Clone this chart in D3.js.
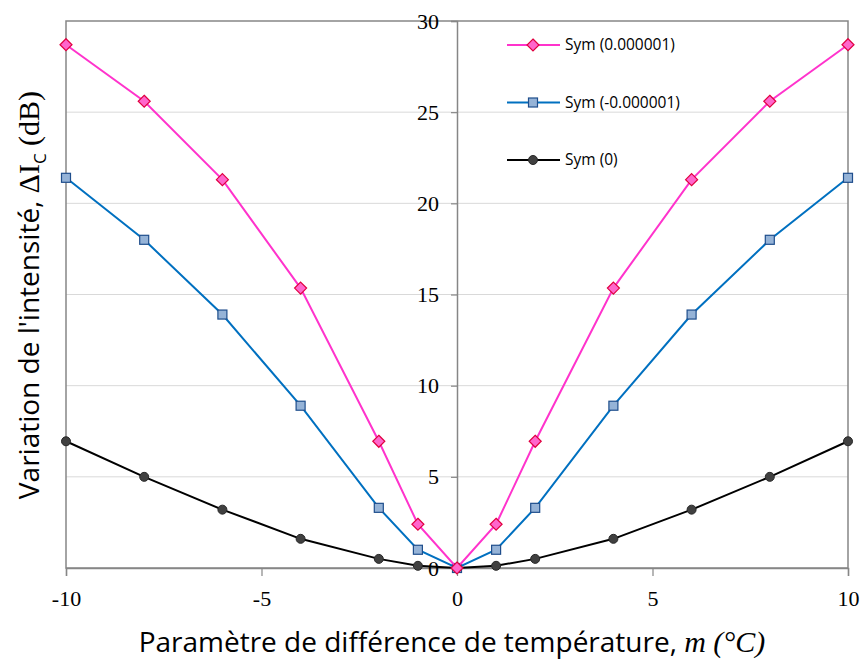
<!DOCTYPE html>
<html>
<head>
<meta charset="utf-8">
<script src="https://cdn.jsdelivr.net/npm/d3@7"></script>
<style>
  body { margin: 0; background: #fff; }
  svg { display: block; }
</style>
</head>
<body>
<div id="chart"></div>
<script>
// data
const xValues = [-10, -8, -6, -4, -2, -1, 0, 1, 2, 4, 6, 8, 10];
const symPos = [28.7, 25.6, 21.3, 15.35, 6.95, 2.4, 0, 2.4, 6.95, 15.35, 21.3, 25.6, 28.7];
const symNeg = [21.4, 18.0, 13.9, 8.9, 3.3, 1.0, 0, 1.0, 3.3, 8.9, 13.9, 18.0, 21.4];
const symZero = [6.95, 5.0, 3.2, 1.6, 0.5, 0.12, 0, 0.12, 0.5, 1.6, 3.2, 5.0, 6.95];
const xTicks = [-10, -5, 0, 5, 10];
const yTicks = [0, 5, 10, 15, 20, 25, 30];
const seriesNames = ["Sym (0.000001)", "Sym (-0.000001)", "Sym (0)"];

const W = 862, H = 661;
const margin = { top: 21, right: 14, bottom: 93, left: 66 };
const width = W - margin.left - margin.right;
const height = H - margin.top - margin.bottom;

const svg = d3.select("#chart").append("svg")
  .attr("width", W)
  .attr("height", H);

const g = svg.append("g")
  .attr("transform", `translate(${margin.left},${margin.top})`);

const x = d3.scaleLinear().domain([-10, 10]).range([0, width]);
const y = d3.scaleLinear().domain([0, 30]).range([height, 0]);

// gridlines
g.selectAll(".grid")
  .data(yTicks.filter(d => d > 0 && d < 30))
  .enter().append("line")
  .attr("x1", 0).attr("x2", width)
  .attr("y1", d => y(d)).attr("y2", d => y(d))
  .attr("stroke", "#d9d9d9")
  .attr("stroke-width", 1);

// plot frame
g.append("rect")
  .attr("x", 0).attr("y", 0)
  .attr("width", width).attr("height", height)
  .attr("fill", "none")
  .attr("stroke", "#868686")
  .attr("stroke-width", 1.5);

const tickFont = "'Liberation Serif', 'Times New Roman', serif";

// x axis at bottom
const xAxis = g.append("g")
  .attr("transform", `translate(0,${height})`)
  .call(d3.axisBottom(x).tickValues(xTicks).tickSize(8).tickPadding(14).tickFormat(d => String(d)));
xAxis.select(".domain").attr("stroke", "#868686").attr("stroke-width", 1.5);
xAxis.selectAll(".tick line").attr("stroke", "#868686").attr("stroke-width", 1.2);
xAxis.selectAll("text")
  .attr("fill", "#000")
  .style("font-family", tickFont)
  .style("font-size", "22px");

// y axis in the middle (x = 0)
const yAxis = g.append("g")
  .attr("transform", `translate(${x(0)},0)`)
  .call(d3.axisLeft(y).tickValues(yTicks).tickSize(6).tickPadding(12).tickFormat(d => String(d)));
yAxis.select(".domain").attr("stroke", "#868686").attr("stroke-width", 1.5);
yAxis.selectAll(".tick line").attr("stroke", "#868686").attr("stroke-width", 1.2);
yAxis.selectAll("text")
  .attr("fill", "#000")
  .style("font-family", tickFont)
  .style("font-size", "22px");

const series = [
  { name: seriesNames[0], values: symPos, line: "#ff33cc", fill: "#ff66cc", stroke: "#e00040", shape: "diamond" },
  { name: seriesNames[1], values: symNeg, line: "#0070c0", fill: "#95b3d7", stroke: "#1f4e8c", shape: "square" },
  { name: seriesNames[2], values: symZero, line: "#000000", fill: "#404040", stroke: "#262626", shape: "circle" }
];

const line = d3.line()
  .x((d, i) => x(xValues[i]))
  .y(d => y(d));

const drawMarker = (sel, s) => {
  if (s.shape === "diamond") {
    sel.append("path")
      .attr("d", "M0,-6L6,0L0,6L-6,0Z")
      .attr("fill", s.fill).attr("stroke", s.stroke).attr("stroke-width", 1.2);
  } else if (s.shape === "square") {
    sel.append("rect")
      .attr("x", -4.5).attr("y", -4.5).attr("width", 9).attr("height", 9)
      .attr("fill", s.fill).attr("stroke", s.stroke).attr("stroke-width", 1.2);
  } else {
    sel.append("circle")
      .attr("r", 4.5)
      .attr("fill", s.fill).attr("stroke", s.stroke).attr("stroke-width", 1);
  }
};

// draw black first so coloured series sit on top like the reference
series.slice().reverse().forEach(s => {
  g.append("path")
    .datum(s.values)
    .attr("d", line)
    .attr("fill", "none")
    .attr("stroke", s.line)
    .attr("stroke-width", 2);

  g.selectAll(null)
    .data(s.values)
    .enter().append("g")
    .attr("transform", (d, i) => `translate(${x(xValues[i])},${y(d)})`)
    .each(function () { drawMarker(d3.select(this), s); });
});

// legend
const legend = svg.append("g").attr("transform", "translate(507,45)");
series.forEach((s, i) => {
  const row = legend.append("g").attr("transform", `translate(0,${i * 57.5})`);
  row.append("line")
    .attr("x1", 0).attr("x2", 53)
    .attr("y1", 0).attr("y2", 0)
    .attr("stroke", s.line).attr("stroke-width", 2);
  const m = row.append("g").attr("transform", "translate(26,0)");
  drawMarker(m, s);
  row.append("text")
    .attr("x", 58).attr("y", 0)
    .attr("dy", "0.35em")
    .style("font-family", "'Open Sans', 'Noto Sans', sans-serif")
    .style("font-size", "15.5px")
    .text(s.name);
});

// y axis title
const yTitle = svg.append("text")
  .attr("transform", "translate(39,295) rotate(-90)")
  .attr("text-anchor", "middle")
  .style("font-size", "28px")
  .style("font-family", "'Open Sans', sans-serif");
yTitle.append("tspan").text("Variation de l'intensité, ");
yTitle.append("tspan")
  .style("font-family", "'Liberation Serif', serif")
  .style("font-size", "30px")
  .text("ΔI");
yTitle.append("tspan")
  .attr("dy", 7)
  .style("font-size", "17px")
  .text("C");
yTitle.append("tspan")
  .attr("dy", -7)
  .style("font-family", "'Liberation Serif', serif")
  .style("font-size", "30px")
  .text(" (dB)");

// x axis title
const xTitle = svg.append("text")
  .attr("x", 452).attr("y", 652)
  .attr("text-anchor", "middle")
  .style("font-size", "28px")
  .style("font-family", "'Open Sans', sans-serif");
xTitle.append("tspan").text("Paramètre de différence de température, ");
xTitle.append("tspan")
  .style("font-family", "'Liberation Serif', serif")
  .style("font-style", "italic")
  .style("font-size", "30px")
  .text("m (°C)");
</script>
</body>
</html>
